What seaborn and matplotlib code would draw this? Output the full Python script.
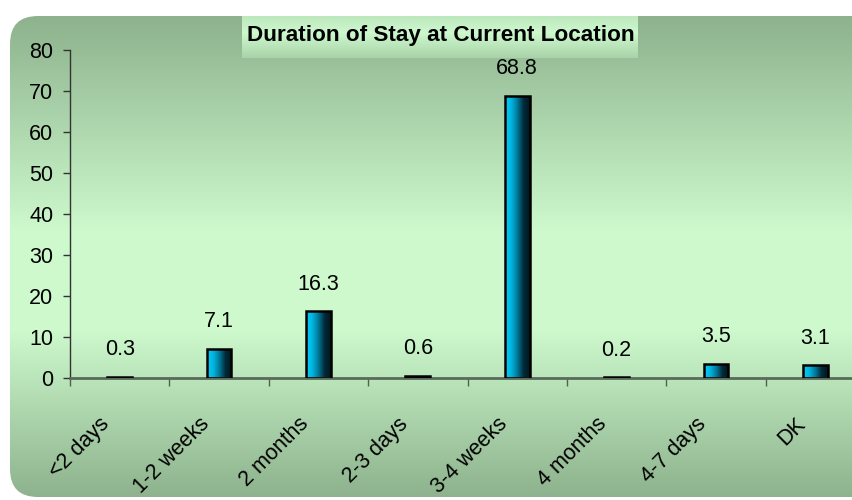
import numpy as np
import matplotlib
matplotlib.use("Agg")
import matplotlib.pyplot as plt
import seaborn as sns
from matplotlib.patches import FancyBboxPatch, Rectangle
from matplotlib.colors import LinearSegmentedColormap
from matplotlib.transforms import ScaledTranslation

categories = ["<2 days", "1-2 weeks", "2 months", "2-3 days",
              "3-4 weeks", "4 months", "4-7 days", "DK"]
values = [0.3, 7.1, 16.3, 0.6, 68.8, 0.2, 3.5, 3.1]
title = "Duration of Stay at Current Location"
yticks = [0, 10, 20, 30, 40, 50, 60, 70, 80]

sns.set_theme(style="white")
plt.rcParams["font.family"] = ["Liberation Sans", "DejaVu Sans"]

W, H = 853, 500
fig = plt.figure(figsize=(W / 100, H / 100), dpi=100)


def vgrad(stops, levels, dark, light):
    # full-size vertical gradient image in pixel coords
    t = np.interp(np.arange(H), stops, levels)
    col = dark[None, :] * (1 - t[:, None]) + light[None, :] * t[:, None]
    return np.repeat(col[:, None, :], W, axis=1)


# background panel with vertical green gradient (pixel coords)
bg = fig.add_axes([0, 0, 1, 1])
bg.axis("off")
dark = np.array([141, 178, 141]) / 255
light = np.array([205, 249, 205]) / 255
panel = FancyBboxPatch((10, 16), 880, 481, boxstyle="round,pad=0,rounding_size=28",
                       facecolor="none", edgecolor="none")
bg.add_patch(panel)
im = bg.imshow(vgrad([16, 230, 330, 497], [0, 1, 1, 0], dark, light),
               extent=[0, W, H, 0], aspect="auto", interpolation="none")
im.set_clip_path(panel)

# title box
tb = Rectangle((242, 16), 396, 42, facecolor="none", edgecolor="none")
bg.add_patch(tb)
im2 = bg.imshow(vgrad([16, 32, 58], [0.75, 1.0, 0.45], dark, light),
                extent=[0, W, H, 0], aspect="auto", interpolation="none")
im2.set_clip_path(tb)
bg.text(441, 35, title, ha="center", va="center", fontsize=16.2, fontweight="bold",
        color="black")
bg.set_xlim(0, W)
bg.set_ylim(H, 0)

# main axes
ax = fig.add_axes([70 / W, (H - 378) / H, (865 - 70) / W, (378 - 50) / H])
ax.patch.set_alpha(0)
sns.barplot(x=categories, y=values, ax=ax, width=0.25, color="#00b0d8",
            edgecolor="black", linewidth=1.8)

cmap = LinearSegmentedColormap.from_list(
    "bar", ["#00d0ff", "#00b4e0", "#007898", "#002a38", "#001820"])
hgrad = np.linspace(0, 1, 64)[None, :]
for p in ax.patches:
    x0, y0, w, h = p.get_x(), p.get_y(), p.get_width(), p.get_height()
    gi = ax.imshow(hgrad, cmap=cmap, extent=[x0, x0 + w, y0, y0 + h],
                   aspect="auto", zorder=2, interpolation="bilinear")
    gi.set_clip_path(p)
    p.set_facecolor("none")
    p.set_zorder(3)

ax.bar_label(ax.containers[0], labels=[f"{v:.1f}" for v in values],
             padding=12, fontsize=15.5, color="black")

ax.set_xlim(-0.5, len(categories) - 0.5)
ax.set_ylim(0, 80)
ax.set_yticks(yticks)
ax.set_yticklabels([str(v) for v in yticks], fontsize=15.5)
ax.tick_params(axis="y", direction="out", length=5, width=1, color="#333333",
               pad=7, left=True, labelcolor="black")

ax.set_xticks(np.arange(len(categories) + 1) - 0.5)
ax.set_xticklabels([])
ax.set_xticks(np.arange(len(categories)), minor=True)
ax.set_xticklabels(categories, minor=True, fontsize=15.5, rotation=45,
                   ha="right", va="center", rotation_mode="anchor", color="black")
ax.tick_params(axis="x", which="major", direction="out", length=6, width=1,
               color="#555f55", bottom=True)
ax.tick_params(axis="x", which="minor", length=0, pad=0)
off = ScaledTranslation(-13 / 100, -43 / 100, fig.dpi_scale_trans)
for lab in ax.get_xticklabels(minor=True):
    lab.set_transform(lab.get_transform() + off)

for s in ["top", "right"]:
    ax.spines[s].set_visible(False)
ax.spines["left"].set_color("#333333")
ax.spines["left"].set_linewidth(1)
ax.spines["bottom"].set_color("#5a6a5a")
ax.spines["bottom"].set_linewidth(2)
ax.set_xlabel("")
ax.set_ylabel("")

fig.savefig("out.png", dpi=100)
